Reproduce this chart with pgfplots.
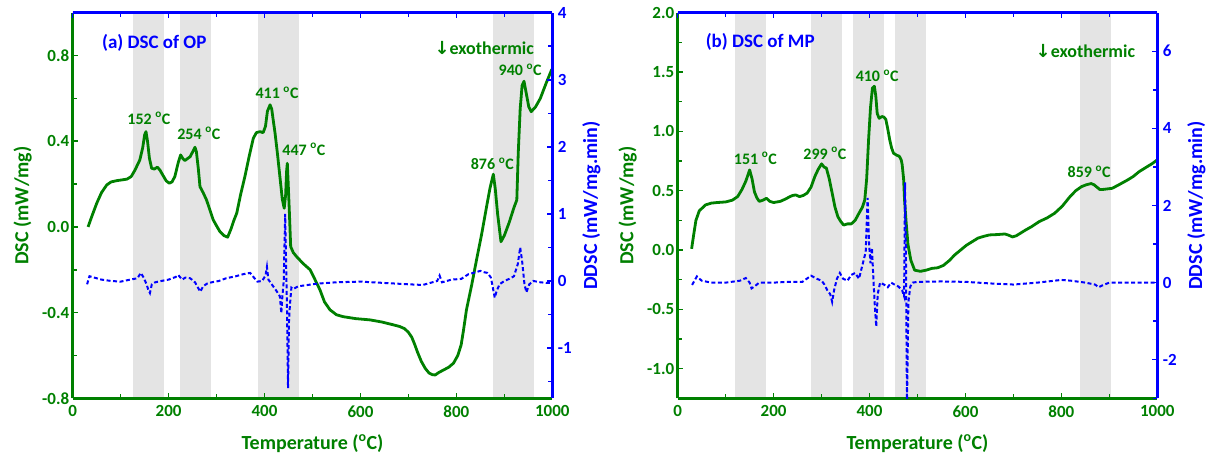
\documentclass[border=0pt]{standalone}
\usepackage{fontspec}
\setmainfont{Carlito}
\newfontfamily\dejavu{DejaVu Sans}
\usepackage{pgfplots}
\pgfplotsset{compat=1.18}
\definecolor{dscgreen}{RGB}{0,128,0}
\definecolor{ddscblue}{RGB}{0,0,255}
\definecolor{bandgray}{RGB}{228,228,228}
\pgfplotsset{
  base/.style={
    scale only axis, width=479.6pt, height=385.6pt,
    xmin=0, xmax=1000,
    xtick={0,200,400,600,800,1000}, minor xtick={100,300,500,700,900},
    tick align=inside,
    major tick length=5pt, minor tick length=4pt,
    /pgf/number format/assume math mode=true,
    /pgf/number format/1000 sep={},
    tick label style={font=\fontsize{17}{17}\selectfont\bfseries},
    label style={font=\fontsize{20}{20}\selectfont\bfseries},
    axis on top,
    clip=true,
  },
  leftax/.style={base,
    axis x line*=bottom, axis y line*=left,
    axis line style={dscgreen, line width=2.5pt},
    tick style={dscgreen, line width=1.5pt},
    tick label style={dscgreen},
    label style={dscgreen},
    yticklabel style={/pgf/number format/fixed, /pgf/number format/fixed zerofill, /pgf/number format/precision=1},
    xticklabel style={yshift=-4pt},
    ylabel style={at={(axis description cs:0,0.5)}, anchor=center, yshift=50pt},
    xlabel style={at={(axis description cs:0.5,0)}, anchor=center, yshift=-45pt},
  },
  rightax/.style={base,
    axis x line*=top, axis y line*=right,
    axis line style={ddscblue, line width=2.5pt},
    tick style={ddscblue, line width=1.5pt},
    tick label style={ddscblue},
    label style={ddscblue},
    xticklabels={},
    yticklabel style={xshift=2pt},
    ylabel style={at={(axis description cs:1,0.5)}, anchor=center, yshift=-39pt},
  },
  dsc/.style={dscgreen, line width=2.8pt, line join=round, mark=none},
  ddsc/.style={ddscblue, line width=2pt, dash pattern=on 4pt off 2.5pt, mark=none},
  band/.style={fill=bandgray, draw=none, forget plot},
}
\tikzset{
  ann/.style={dscgreen, font=\fontsize{16}{16}\selectfont\bfseries, inner sep=0pt},
  ttl/.style={ddscblue, font=\fontsize{19}{19}\selectfont\bfseries, inner sep=0pt},
  exo/.style={dscgreen, font=\fontsize{18}{18}\selectfont\bfseries, inner sep=0pt},
}
\begin{document}
\begin{tikzpicture}
\useasboundingbox (0,0) rectangle (1210pt,459pt);
% ---------------- Panel (a) ----------------
\begin{axis}[leftax, at={(72.7pt,60.7pt)}, anchor=south west,
  ymin=-0.8, ymax=1.0, ytick={-0.8,-0.4,0,0.4,0.8}, minor ytick={-0.6,-0.2,0.2,0.6,1.0},
  xlabel={Temperature (\textsuperscript{o}C)}, ylabel={DSC (mW/mg)}]
\addplot[band] coordinates {(126,-0.8) (126,1.0) (190,1.0) (190,-0.8)} -- cycle;
\addplot[band] coordinates {(223,-0.8) (223,1.0) (288,1.0) (288,-0.8)} -- cycle;
\addplot[band] coordinates {(386,-0.8) (386,1.0) (471,1.0) (471,-0.8)} -- cycle;
\addplot[band] coordinates {(876,-0.8) (876,1.0) (962,1.0) (962,-0.8)} -- cycle;
\addplot[dsc] coordinates {
(32,0.0) (40,0.05) (50,0.11) (60,0.16) (71,0.196) (80,0.21) (92,0.216) (113,0.223)
(122,0.235) (130,0.266) (140,0.313) (146,0.37) (150,0.43) (152.8,0.445) (156,0.40)
(160,0.32) (164.6,0.274) (170,0.27) (176.5,0.279) (182,0.265) (187.6,0.243) (195,0.215)
(201.5,0.204) (207,0.21) (213,0.235) (220,0.30) (225,0.336) (230,0.318) (234,0.31)
(240,0.32) (245,0.328) (250,0.35) (255,0.372) (258,0.35) (262,0.27) (265.4,0.188)
(272,0.16) (279,0.126) (286,0.08) (293,0.033) (300,0.005) (307,-0.022) (315,-0.04)
(323,-0.048) (330,-0.01) (336,0.03) (342,0.064) (350,0.15) (359,0.235) (368,0.33)
(376.6,0.414) (383,0.44) (390.5,0.445) (397,0.44) (402,0.47) (406,0.54) (411.5,0.57)
(415,0.55) (418,0.50) (421.8,0.44) (427,0.34) (432,0.235) (437,0.13) (441,0.087)
(444,0.15) (446,0.26) (447.5,0.297) (449,0.22) (451.6,0.079) (454.5,-0.092) (460,-0.12)
(467,-0.139) (480,-0.17) (495,-0.20) (505,-0.245) (515.6,-0.294) (525,-0.35)
(536.5,-0.387) (550,-0.41) (564,-0.419) (590,-0.428) (620,-0.434) (645,-0.444)
(668.5,-0.457) (682,-0.465) (692,-0.475) (700,-0.492) (707,-0.515) (713,-0.548)
(719,-0.585) (727,-0.628) (735,-0.66) (743,-0.682) (750,-0.69) (756,-0.691)
(763,-0.68) (773,-0.668) (784,-0.655) (794,-0.636) (803,-0.60) (810,-0.55)
(815,-0.48) (821,-0.387) (832,-0.27) (842,-0.154)
(853,-0.03) (863,0.095) (870,0.18) (877,0.246) (881,0.18) (886,0.06) (893,-0.069)
(900,-0.04) (910,0.02) (920,0.09) (926,0.126) (929,0.345) (933,0.55) (937,0.66)
(941,0.68) (946,0.62) (951,0.56) (956,0.538) (965,0.56) (975,0.60) (987,0.67) (999,0.736)
};
\node[ttl] at (axis cs:170,0.86) {(a) DSC of OP};
\node[exo] at (axis cs:858,0.834) {{\dejavu\bfseries ↓}exothermic};
\node[ann] at (axis cs:159,0.507) {152 \textsuperscript{o}C};
\node[ann] at (axis cs:263,0.437) {254 \textsuperscript{o}C};
\node[ann] at (axis cs:426,0.627) {411 \textsuperscript{o}C};
\node[ann] at (axis cs:482,0.363) {447 \textsuperscript{o}C};
\node[ann] at (axis cs:875,0.294) {876 \textsuperscript{o}C};
\node[ann] at (axis cs:933,0.733) {940 \textsuperscript{o}C};
\end{axis}
\begin{axis}[rightax, at={(72.7pt,60.7pt)}, anchor=south west,
  ymin=-1.75, ymax=4, ytick={-1,0,1,2,3,4}, minor ytick={-1.5,-0.5,0.5,1.5,2.5,3.5},
  ylabel={DDSC (mW/mg.min)}]
\addplot[ddsc] coordinates {
(30,-0.05) (35,0.07) (45,0.05) (60,0.02) (80,0.0) (100,-0.01) (120,0.02) (135,0.04)
(142,0.12) (148,0.05) (154,-0.05) (158,-0.14) (161,-0.18) (165,-0.05) (172,-0.02)
(185,0.0) (200,0.02) (215,0.06) (220,0.09) (228,0.02) (235,0.05) (245,0.04) (255,-0.02)
(262,-0.11) (266,-0.16) (272,-0.08) (280,-0.04) (290,-0.02) (305,0.0) (320,0.04)
(340,0.07) (355,0.10) (370,0.12) (378,0.05) (385,-0.01) (395,0.0) (402,0.08) (405,0.21)
(408,0.02) (415,-0.05) (425,-0.15) (432,-0.23) (435,-0.48) (437,-0.25) (440,0.0)
(443,1.0) (445,0.25) (447,-0.5) (449,-1.6) (451,-0.6) (453,-0.35) (456,-0.1) (460,-0.12)
(470,-0.08) (490,-0.06) (510,-0.04) (550,-0.02) (600,-0.01) (650,-0.03) (700,-0.05)
(730,-0.06) (745,-0.03) (760,0.0) (765,0.08) (770,-0.02) (790,0.02) (810,0.03)
(825,0.1) (840,0.13) (850,0.15) (858,0.13) (865,0.12) (872,0.05) (876,-0.1) (880,-0.25)
(884,-0.15) (890,-0.05) (900,0.0) (910,0.03) (920,0.07) (928,0.25) (933,0.5) (937,0.3)
(942,-0.05) (946,-0.17) (952,-0.05) (960,0.0) (975,-0.02) (990,-0.03) (1000,-0.03)
};
\end{axis}
% ---------------- Panel (b) ----------------
\begin{axis}[leftax, at={(677.7pt,60.7pt)}, anchor=south west,
  ymin=-1.25, ymax=2.0, ytick={-1,-0.5,0,0.5,1,1.5,2}, minor ytick={-1.25,-0.75,-0.25,0.25,0.75,1.25,1.75},
  xlabel={Temperature (\textsuperscript{o}C)}, ylabel={DSC (mW/mg)}]
\addplot[band] coordinates {(120,-1.25) (120,2.0) (184,2.0) (184,-1.25)} -- cycle;
\addplot[band] coordinates {(278,-1.25) (278,2.0) (342,2.0) (342,-1.25)} -- cycle;
\addplot[band] coordinates {(366,-1.25) (366,2.0) (430,2.0) (430,-1.25)} -- cycle;
\addplot[band] coordinates {(454,-1.25) (454,2.0) (518,2.0) (518,-1.25)} -- cycle;
\addplot[band] coordinates {(839,-1.25) (839,2.0) (903,2.0) (903,-1.25)} -- cycle;
\addplot[dsc] coordinates {
(29,0.01) (33,0.12) (38,0.25) (45,0.33) (58,0.38) (70,0.395) (82,0.40) (100,0.405)
(114,0.42) (125,0.45) (134,0.51) (142,0.58) (150,0.675) (155,0.6) (160,0.49) (165,0.44)
(170,0.41) (178,0.42) (185,0.436) (192,0.41) (200,0.40) (214,0.41) (225,0.43) (234,0.45)
(240,0.46) (246,0.464) (254,0.45) (262,0.46) (270,0.48) (278,0.53) (286,0.62) (293,0.68)
(300,0.726) (305,0.70) (310,0.69) (316,0.6) (322,0.48) (328,0.36) (334,0.28) (340,0.24)
(346,0.21) (354,0.22) (362,0.22) (370,0.25) (378,0.31) (385,0.36) (390,0.42) (394,0.6)
(398,0.93) (402,1.2) (406,1.365) (410,1.38) (413,1.3) (416,1.15) (420,1.11) (426,1.125)
(430,1.12) (434,1.1) (438,1.02) (442,0.93) (446,0.86) (450,0.816) (456,0.80) (462,0.79)
(466,0.76) (468,0.72) (471,0.6) (473,0.42) (476,0.25) (480,0.05) (486,-0.085)
(494,-0.17) (506,-0.18) (518,-0.17) (530,-0.155) (542,-0.15) (554,-0.13) (566,-0.09)
(578,-0.04) (590,0.0) (602,0.04) (614,0.07) (626,0.10) (638,0.115) (650,0.127)
(666,0.13) (682,0.135) (690,0.125) (698,0.11) (706,0.12) (714,0.14) (726,0.17)
(738,0.197) (754,0.24) (770,0.27) (786,0.31) (802,0.37) (818,0.45) (830,0.50)
(842,0.534) (852,0.55) (862,0.56) (868,0.55) (874,0.53) (880,0.51) (886,0.51)
(896,0.515) (906,0.52) (920,0.55) (938,0.59) (950,0.62) (962,0.66) (978,0.70)
(990,0.73) (1000,0.76)
};
\node[ttl] at (axis cs:172,1.75) {(b) DSC of MP};
\node[exo] at (axis cs:850,1.673) {{\dejavu\bfseries ↓}exothermic};
\node[ann] at (axis cs:162,0.774) {151 \textsuperscript{o}C};
\node[ann] at (axis cs:307,0.816) {299 \textsuperscript{o}C};
\node[ann] at (axis cs:416,1.468) {410 \textsuperscript{o}C};
\node[ann] at (axis cs:858,0.661) {859 \textsuperscript{o}C};
\end{axis}
\begin{axis}[rightax, at={(677.7pt,60.7pt)}, anchor=south west,
  ymin=-3, ymax=7, ytick={-2,0,2,4,6}, minor ytick={-3,-1,1,3,5,7},
  ylabel={DDSC (mW/mg.min)}]
\addplot[ddsc] coordinates {
(30,-0.06) (40,0.16) (50,0.05) (70,0.0) (100,0.0) (130,0.05) (142,0.12) (150,0.0)
(154,-0.15) (160,-0.1) (170,0.0) (200,0.0) (230,0.02) (260,0.02) (278,0.18) (290,0.1)
(300,0.05) (306,-0.05) (312,-0.2) (318,-0.3) (322,-0.5) (326,-0.2) (332,0.1) (338,0.25)
(345,0.1) (354,0.05) (362,0.2) (370,0.25) (378,0.1) (386,0.5) (392,0.8) (396,2.2)
(399,1.0) (402,0.5) (405,0.9) (408,0.1) (411,-0.6) (414,-1.14) (417,-0.3) (422,0.0)
(430,-0.05) (438,-0.12) (445,0.0) (452,-0.05) (460,-0.1) (468,-0.2) (472,-0.35)
(474,2.6) (476,0.5) (478,-3.2) (481,-0.5) (485,-0.1) (490,0.0) (500,0.02) (550,0.03)
(600,0.02) (650,-0.02) (700,-0.05) (750,0.0) (800,0.07) (820,0.05) (850,0.0)
(870,-0.05) (878,-0.12) (884,-0.08) (900,0.0) (950,0.0) (1000,0.0)
};
\end{axis}
\end{tikzpicture}
\end{document}
